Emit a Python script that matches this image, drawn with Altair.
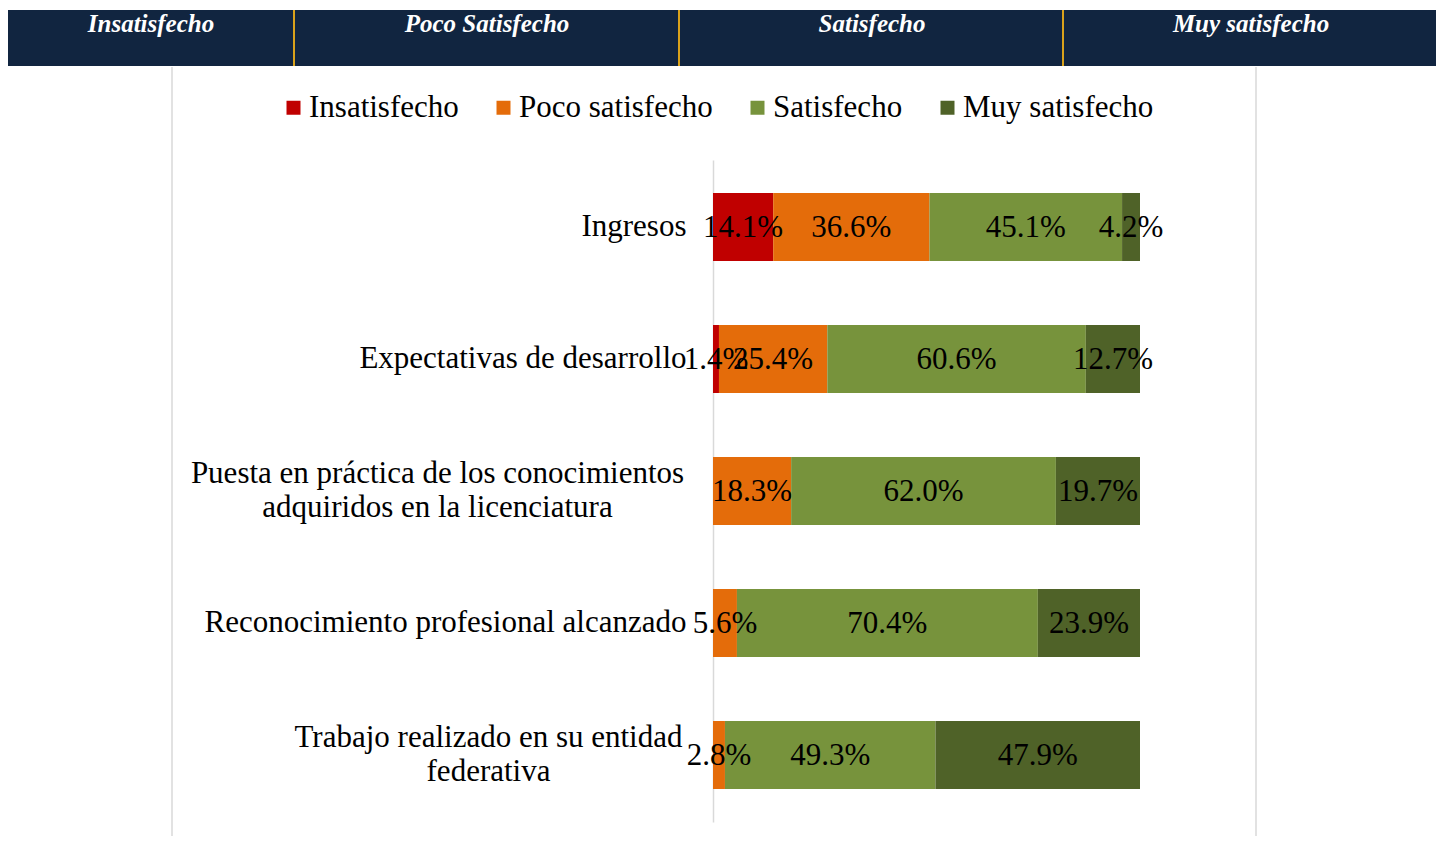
import json
import altair as alt
import pandas as pd

# ---------------- data ----------------
categories = [
    "Ingresos",
    "Expectativas de desarrollo",
    "Puesta en práctica de los conocimientos adquiridos en la licenciatura",
    "Reconocimiento profesional alcanzado",
    "Trabajo realizado en su entidad federativa",
]
category_lines = [
    ["Ingresos"],
    ["Expectativas de desarrollo"],
    ["Puesta en práctica de los conocimientos", "adquiridos en la licenciatura"],
    ["Reconocimiento profesional alcanzado"],
    ["Trabajo realizado en su entidad", "federativa"],
]
levels = ["Insatisfecho", "Poco satisfecho", "Satisfecho", "Muy satisfecho"]
insatisfecho = [14.1, 1.4, 0.0, 0.0, 0.0]
poco_satisfecho = [36.6, 25.4, 18.3, 5.6, 2.8]
satisfecho = [45.1, 60.6, 62.0, 70.4, 49.3]
muy_satisfecho = [4.2, 12.7, 19.7, 23.9, 47.9]
header_labels = ["Insatisfecho", "Poco Satisfecho", "Satisfecho", "Muy satisfecho"]

# ---------------- style / layout ----------------
colors = ["#C00000", "#E46C0A", "#77933C", "#4F6228"]
FONT = "Liberation Serif"
FS = 31
NAVY = "#112540"
GOLD = "#D9A21B"
GRID = "#D9D9D9"
PAD_L, PAD_T = 705, 152
W, H = 427, 662
header_centers = [151, 487, 872, 1251]      # page px
header_seps = [294, 679, 1063]               # page px
border_x = [172, 1256]                       # page px
multiline_center_x = {2: 437, 4: 488}        # page px of centered 2-line labels
LINE_H = 34


def px(x):
    return x - (PAD_L + 8)


def py(y):
    return y - (PAD_T + 8)


series = [insatisfecho, poco_satisfecho, satisfecho, muy_satisfecho]
rows = []
for i, c in enumerate(categories):
    for j, lev in enumerate(levels):
        rows.append({"cat": c, "level": lev, "order": j, "value": series[j][i]})
df = pd.DataFrame(rows)

label_map = {c: lines for c, lines in zip(categories, category_lines)}
label_expr = json.dumps(label_map, ensure_ascii=False) + "[datum.label]"

pad_conds = []
off_conds = []
align_conds = []
for i, cx in multiline_center_x.items():
    t = "datum.value == " + json.dumps(categories[i], ensure_ascii=False)
    pad_conds.append({"test": t, "value": (PAD_L + 8) - cx})
    off_conds.append({"test": t, "value": -LINE_H / 2})
    align_conds.append({"test": t, "value": "center"})

yenc = alt.Y(
    "cat:N",
    sort=categories,
    scale=alt.Scale(paddingInner=0.485, paddingOuter=0.25),
    axis=alt.Axis(
        title=None, ticks=False, grid=False, labelFont=FONT,
        labelFontSize=FS, labelColor="black", labelLimit=0, labelLineHeight=LINE_H,
        domainColor=GRID, domainWidth=1.5, labelExpr=label_expr,
        labelPadding={"condition": pad_conds, "value": 27},
        labelOffset={"condition": off_conds, "value": 0},
        labelAlign={"condition": align_conds, "value": "right"},
    ),
)

base = alt.Chart(df).transform_stack(
    stack="value", groupby=["cat"], as_=["x0", "x1"], offset="normalize",
    sort=[alt.SortField("order", order="ascending")],
).transform_calculate(
    mid="(datum.x0 + datum.x1) / 2",
    label="format(datum.value, '.1f') + '%'",
)

xscale = alt.Scale(domain=[0, 1], nice=False, zero=False)

bars = base.mark_bar().encode(
    x=alt.X("x0:Q", scale=xscale, axis=None),
    x2="x1:Q",
    y=yenc,
    color=alt.Color(
        "level:N",
        scale=alt.Scale(domain=levels, range=colors),
        legend=alt.Legend(
            title=None, orient="none", legendX=px(278), legendY=py(92),
            direction="horizontal", symbolType="square", symbolSize=196,
            symbolStrokeWidth=0, labelFont=FONT, labelFontSize=FS,
            labelColor="black", labelOffset=0, columnPadding=29, padding=0,
            labelLimit=0,
        ),
    ),
)

texts = base.transform_filter("datum.value > 0").mark_text(
    font=FONT, fontSize=FS, color="black", align="center", baseline="middle", dy=1
).encode(
    x=alt.X("mid:Q", scale=xscale, axis=None),
    y=yenc,
    text="label:N",
)

one = alt.Data(values=[{}])
layers = []
layers.append(
    alt.Chart(one).mark_rect(color=NAVY).encode(
        x=alt.value(px(6)), x2=alt.value(px(1438)),
        y=alt.value(py(10)), y2=alt.value(py(66)),
    )
)
for sx in header_seps:
    layers.append(
        alt.Chart(one).mark_rule(color=GOLD, strokeWidth=2).encode(
            x=alt.value(px(sx)), y=alt.value(py(10)), y2=alt.value(py(66))
        )
    )
for lab, cx in zip(header_labels, header_centers):
    layers.append(
        alt.Chart(one).mark_text(
            text=lab, font=FONT, fontSize=25, fontStyle="italic",
            fontWeight="bold", color="white", align="center",
            baseline="alphabetic",
        ).encode(x=alt.value(px(cx)), y=alt.value(py(32)))
    )
for bx in border_x:
    layers.append(
        alt.Chart(one).mark_rule(color=GRID, strokeWidth=1.5).encode(
            x=alt.value(px(bx)), y=alt.value(py(67)), y2=alt.value(py(900))
        )
    )
layers += [bars, texts]

chart = alt.layer(*layers).properties(
    width=W, height=H,
    autosize=alt.AutoSizeParams(type="none"),
    padding={"left": PAD_L, "top": PAD_T, "right": 1428 - PAD_L - W, "bottom": 828 - PAD_T - H},
    background="white",
).configure_view(strokeWidth=0)

chart.save("out.html", embed_options={"renderer": "svg", "actions": False})
